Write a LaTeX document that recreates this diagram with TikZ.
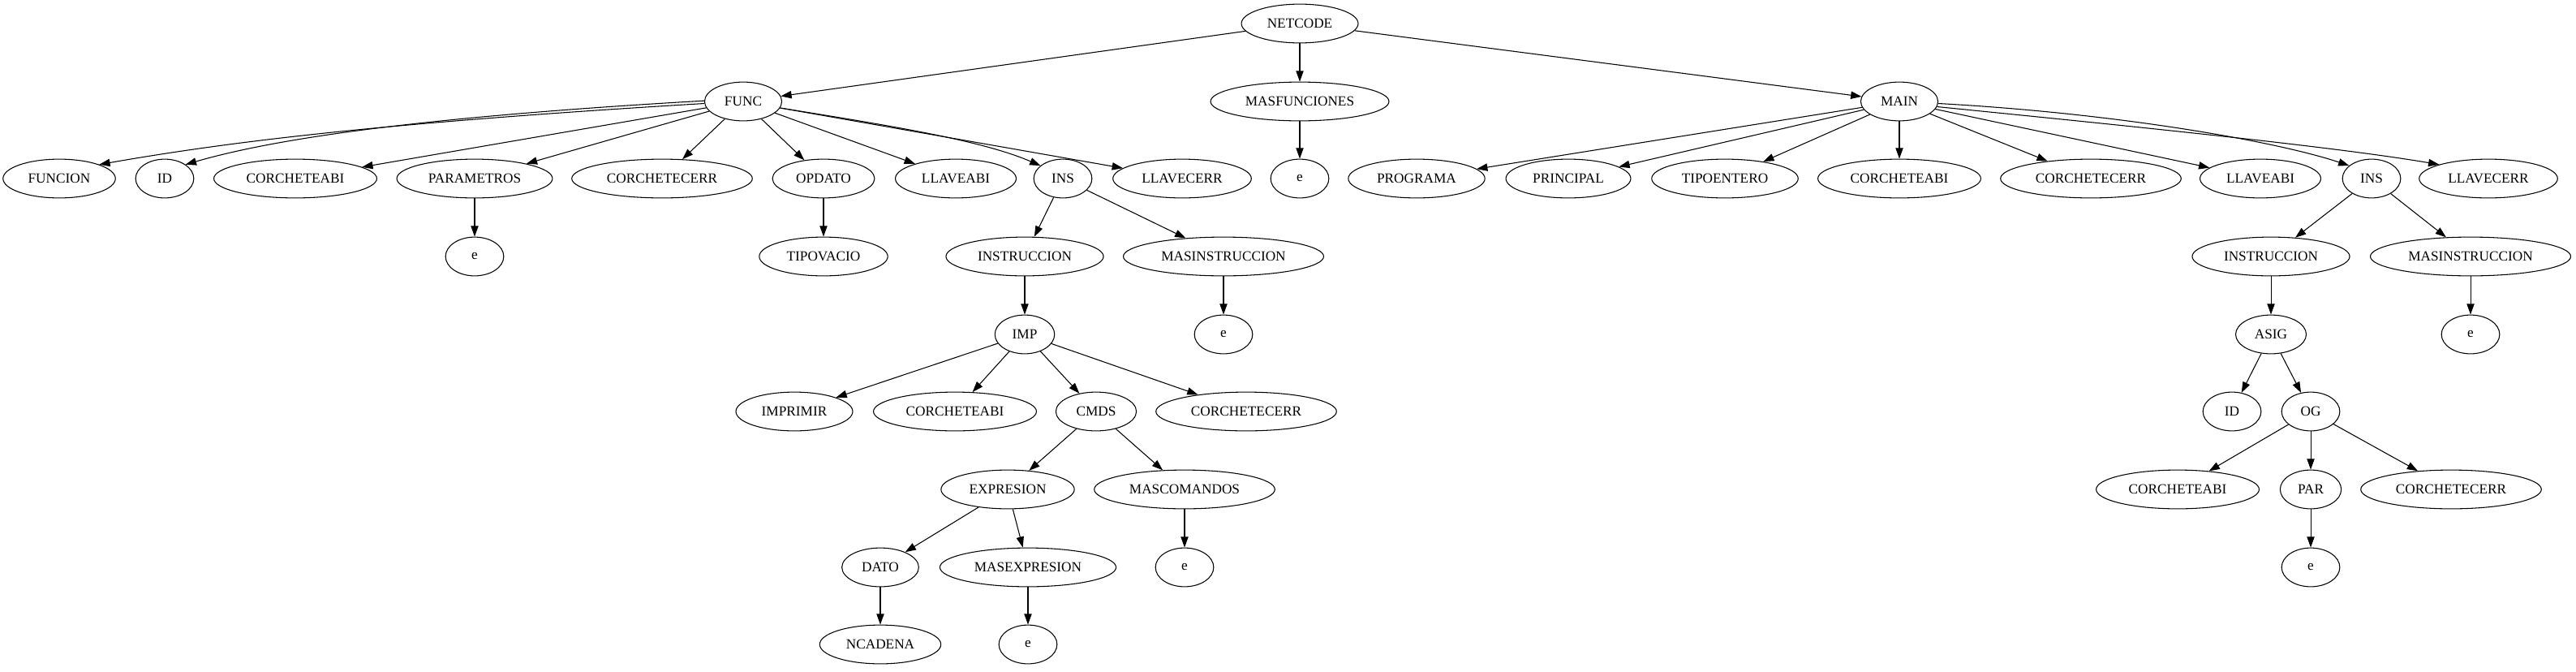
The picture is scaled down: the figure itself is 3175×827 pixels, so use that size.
\documentclass[tikz,border=0pt]{standalone}
\usepackage{fontspec}
\setmainfont{Liberation Serif}
\usetikzlibrary{shapes.geometric,arrows.meta}
\tikzset{
  nd/.style={draw, ellipse, line width=0.8pt, inner xsep=8pt, inner ysep=4pt,
    minimum width=54pt, minimum height=36pt, font=\fontsize{13}{15}\selectfont},
  ar/.style={-{Triangle[length=10pt,width=7pt]}, line width=0.8pt}
}
\begin{document}
\begin{tikzpicture}[x=0.7533pt,y=-0.7533pt]
\useasboundingbox (0,0) rectangle (3175,827);
% rank 0
\node[nd] (netcode) at (1602,29) {NETCODE};
% rank 1
\node[nd] (func) at (916,125) {FUNC};
\node[nd] (masfun) at (1602,125) {MASFUNCIONES};
\node[nd] (main) at (2341,125) {MAIN};
% rank 2
\node[nd] (fFuncion) at (73,220) {FUNCION};
\node[nd] (fId) at (203,220) {ID};
\node[nd] (fCa) at (364,220) {CORCHETEABI};
\node[nd] (fPar) at (585,220) {PARAMETROS};
\node[nd] (fCc) at (816,220) {CORCHETECERR};
\node[nd] (fOp) at (1015,220) {OPDATO};
\node[nd] (fLa) at (1178,220) {LLAVEABI};
\node[nd] (fIns) at (1310,220) {INS};
\node[nd] (fLc) at (1457,220) {LLAVECERR};
\node[nd] (mfE) at (1602,220) {e};
\node[nd] (mProg) at (1746,220) {PROGRAMA};
\node[nd] (mPrin) at (1933,220) {PRINCIPAL};
\node[nd] (mTipo) at (2126,220) {TIPOENTERO};
\node[nd] (mCa) at (2341,220) {CORCHETEABI};
\node[nd] (mCc) at (2577,220) {CORCHETECERR};
\node[nd] (mLa) at (2786,220) {LLAVEABI};
\node[nd] (mIns) at (2923,220) {INS};
\node[nd] (mLc) at (3067,220) {LLAVECERR};
% rank 3
\node[nd] (fParE) at (585,316) {e};
\node[nd] (fTipo) at (1015,316) {TIPOVACIO};
\node[nd] (fInstr) at (1263,316) {INSTRUCCION};
\node[nd] (fMasI) at (1508,316) {MASINSTRUCCION};
\node[nd] (mInstr) at (2799,316) {INSTRUCCION};
\node[nd] (mMasI) at (3045,316) {MASINSTRUCCION};
% rank 4
\node[nd] (imp) at (1263,412) {IMP};
\node[nd] (fMasIE) at (1508,412) {e};
\node[nd] (asig) at (2799,412) {ASIG};
\node[nd] (mMasIE) at (3045,412) {e};
% rank 5
\node[nd] (impr) at (979,507) {IMPRIMIR};
\node[nd] (iCa) at (1177,507) {CORCHETEABI};
\node[nd] (cmds) at (1351,507) {CMDS};
\node[nd] (iCc) at (1536,507) {CORCHETECERR};
\node[nd] (aId) at (2751,507) {ID};
\node[nd] (og) at (2848,507) {OG};
% rank 6
\node[nd] (expr) at (1242,603) {EXPRESION};
\node[nd] (masc) at (1460,603) {MASCOMANDOS};
\node[nd] (oCa) at (2684,603) {CORCHETEABI};
\node[nd] (par) at (2848,603) {PAR};
\node[nd] (oCc) at (3021,603) {CORCHETECERR};
% rank 7
\node[nd] (dato) at (1085,699) {DATO};
\node[nd] (mase) at (1267,699) {MASEXPRESION};
\node[nd] (mascE) at (1460,699) {e};
\node[nd] (parE) at (2848,699) {e};
% rank 8
\node[nd] (ncad) at (1085,794) {NCADENA};
\node[nd] (maseE) at (1267,794) {e};
% edges
\draw[ar] (netcode) -- (func);
\draw[ar] (netcode) -- (masfun);
\draw[ar] (netcode) -- (main);
\draw[ar] (func.183) .. controls +(-400,24) and +(160,-28) .. (fFuncion.north east);
\draw[ar] (func.179) .. controls +(-350,20) and +(110,-32) .. (fId.north east);
\draw[ar] (func) -- (fCa);
\draw[ar] (func) -- (fPar);
\draw[ar] (func) -- (fCc);
\draw[ar] (func) -- (fOp);
\draw[ar] (func) -- (fLa);
\draw[ar] (func.-10) .. controls +(150,24) and +(-70,-30) .. (fIns.150);
\draw[ar] (func) -- (fLc);
\draw[ar] (masfun) -- (mfE);
\draw[ar] (main) -- (mProg);
\draw[ar] (main) -- (mPrin);
\draw[ar] (main) -- (mTipo);
\draw[ar] (main) -- (mCa);
\draw[ar] (main) -- (mCc);
\draw[ar] (main) -- (mLa);
\draw[ar] (main.-3) .. controls +(220,12) and +(-90,-30) .. (mIns.150);
\draw[ar] (main.-8) .. controls +(250,25) and +(-130,-22) .. (mLc.north west);
\draw[ar] (fPar) -- (fParE);
\draw[ar] (fOp) -- (fTipo);
\draw[ar] (fIns) -- (fInstr);
\draw[ar] (fIns) -- (fMasI);
\draw[ar] (fInstr) -- (imp);
\draw[ar] (fMasI) -- (fMasIE);
\draw[ar] (imp) -- (impr);
\draw[ar] (imp) -- (iCa);
\draw[ar] (imp) -- (cmds);
\draw[ar] (imp) -- (iCc);
\draw[ar] (cmds) -- (expr);
\draw[ar] (cmds) -- (masc);
\draw[ar] (expr) -- (dato);
\draw[ar] (expr) -- (mase);
\draw[ar] (dato) -- (ncad);
\draw[ar] (mase) -- (maseE);
\draw[ar] (masc) -- (mascE);
\draw[ar] (mIns) -- (mInstr);
\draw[ar] (mIns) -- (mMasI);
\draw[ar] (mInstr) -- (asig);
\draw[ar] (mMasI) -- (mMasIE);
\draw[ar] (asig) -- (aId);
\draw[ar] (asig) -- (og);
\draw[ar] (og) -- (oCa);
\draw[ar] (og) -- (par);
\draw[ar] (og) -- (oCc);
\draw[ar] (par) -- (parE);
\end{tikzpicture}
\end{document}
